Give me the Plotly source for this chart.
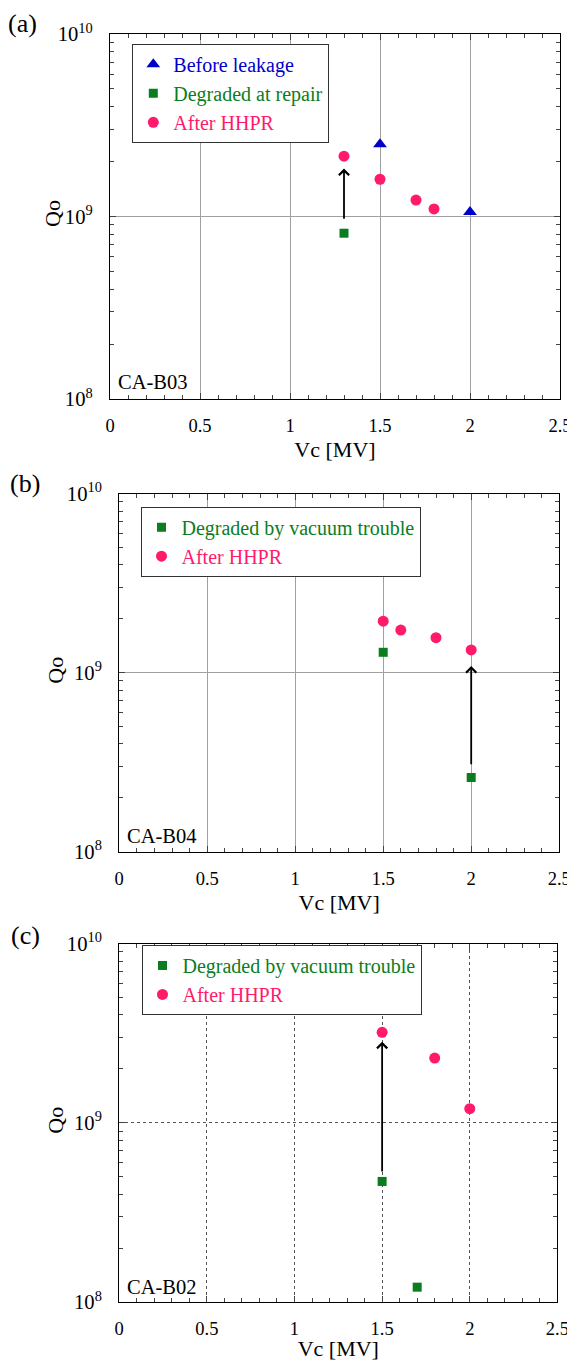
import numpy as np
import plotly.graph_objects as go

# ---------------- data ----------------
# Panel (a) CA-B03
a_before_x = [1.5, 2.0]
a_before_q = [2.49e9, 1.06e9]
a_degr_x = [1.3]
a_degr_q = [0.81e9]
a_after_x = [1.3, 1.5, 1.7, 1.8]
a_after_q = [2.14e9, 1.60e9, 1.23e9, 1.10e9]
a_arrow_x = 1.3
a_arrow_from = 0.955e9
a_arrow_to = 1.83e9

# Panel (b) CA-B04
b_degr_x = [1.5, 2.0]
b_degr_q = [1.30e9, 2.6e8]
b_after_x = [1.5, 1.6, 1.8, 2.0]
b_after_q = [1.94e9, 1.73e9, 1.57e9, 1.34e9]
b_arrow_x = 2.0
b_arrow_from = 3.02e8
b_arrow_to = 1.09e9

# Panel (c) CA-B02
c_degr_x = [1.5, 1.7]
c_degr_q = [4.71e8, 1.21e8]
c_after_x = [1.5, 1.8, 2.0]
c_after_q = [3.2e9, 2.3e9, 1.2e9]
c_arrow_x = 1.5
c_arrow_from = 5.25e8
c_arrow_to = 2.84e9

x_ticks = [0, 0.5, 1, 1.5, 2, 2.5]
x_ticktext = ["0", "0.5", "1", "1.5", "2", "2.5"]

BLUE = "#0000CC"
GREEN = "#0A7D1E"
PINK = "#FF1A6C"
FONT = "Liberation Serif, Times New Roman, serif"

# page body has an 8px margin; figure sized to fit the window
OFF = 8
FW, FH = 575 - OFF, 1361 - OFF

def pxx(px):
    return (px - OFF) / FW

def pxy(py):
    return 1 - (py - OFF) / FH

def col(txt, c):
    return f"<span style='color:{c}'>{txt}</span>"

fig = go.Figure()

# Panel (a)
fig.add_trace(go.Scatter(x=a_before_x, y=a_before_q, mode="markers", name=col("Before leakage", BLUE),
                         marker=dict(symbol="triangle-up", size=12, color=BLUE),
                         xaxis="x", yaxis="y", legend="legend"))
fig.add_trace(go.Scatter(x=a_degr_x, y=a_degr_q, mode="markers", name=col("Degraded at repair", GREEN),
                         marker=dict(symbol="square", size=9, color=GREEN),
                         xaxis="x", yaxis="y", legend="legend"))
fig.add_trace(go.Scatter(x=a_after_x, y=a_after_q, mode="markers", name=col("After HHPR", PINK),
                         marker=dict(symbol="circle", size=11, color=PINK),
                         xaxis="x", yaxis="y", legend="legend"))
# Panel (b)
fig.add_trace(go.Scatter(x=b_degr_x, y=b_degr_q, mode="markers", name=col("Degraded by vacuum trouble", GREEN),
                         marker=dict(symbol="square", size=9, color=GREEN),
                         xaxis="x2", yaxis="y2", legend="legend2"))
fig.add_trace(go.Scatter(x=b_after_x, y=b_after_q, mode="markers", name=col("After HHPR", PINK),
                         marker=dict(symbol="circle", size=11, color=PINK),
                         xaxis="x2", yaxis="y2", legend="legend2"))
# Panel (c)
fig.add_trace(go.Scatter(x=c_degr_x, y=c_degr_q, mode="markers", name=col("Degraded by vacuum trouble", GREEN),
                         marker=dict(symbol="square", size=9, color=GREEN),
                         xaxis="x3", yaxis="y3", legend="legend3"))
fig.add_trace(go.Scatter(x=c_after_x, y=c_after_q, mode="markers", name=col("After HHPR", PINK),
                         marker=dict(symbol="circle", size=11, color=PINK),
                         xaxis="x3", yaxis="y3", legend="legend3"))

panels = [
    dict(l=110, r=560, t=34, b=399, grid="solid", gc="#A0A0A0"),
    dict(l=119.2, r=559.2, t=493.7, b=851.7, grid="solid", gc="#A0A0A0"),
    dict(l=119.2, r=557.4, t=943.7, b=1302, grid="dot", gc="#555555"),
]

layout = dict(width=FW, height=FH, margin=dict(l=0, r=0, t=0, b=0, autoexpand=False),
              paper_bgcolor="white", plot_bgcolor="white", showlegend=True,
              font=dict(family=FONT, color="black", size=18))

for i, p in enumerate(panels):
    sfx = "" if i == 0 else str(i + 1)
    layout["xaxis" + sfx] = dict(
        domain=[pxx(p["l"]), pxx(p["r"])], anchor="y" + sfx, range=[0, 2.5], automargin=False,
        tickvals=x_ticks, ticktext=x_ticktext,
        ticks="inside", ticklen=6, tickcolor="#444",
        minor=dict(dtick=0.1, tick0=0, ticks="inside", ticklen=4, tickcolor="#444", showgrid=False),
        showline=True, linecolor="black", linewidth=1, mirror="allticks",
        showgrid=True, gridcolor=p["gc"], gridwidth=1, griddash=p["grid"],
        zeroline=False, tickfont=dict(size=18.5, family=FONT),
        ticklabelstandoff=10,
        title=dict(text="Vc [MV]", font=dict(size=22, family=FONT), standoff=6))
    layout["yaxis" + sfx] = dict(
        domain=[pxy(p["b"]), pxy(p["t"])], anchor="x" + sfx, type="log", range=[8, 10], automargin=False,
        dtick=1, exponentformat="power",
        ticks="inside", ticklen=6, tickcolor="#444",
        minor=dict(dtick="D1", ticks="inside", ticklen=4, tickcolor="#444", showgrid=False),
        showline=True, linecolor="black", linewidth=1, mirror="allticks",
        showgrid=True, gridcolor=p["gc"], gridwidth=1, griddash=p["grid"],
        zeroline=False, tickfont=dict(size=16.5, family=FONT),
        ticklabelstandoff=13)

# legend: left x, vertical centre, font size
legend_pos = [(132.3, 93.3, 20), (140.5, 541.7, 20), (141.5, 979.9, 20)]
for i, (lx, ly, fs) in enumerate(legend_pos):
    name = "legend" if i == 0 else f"legend{i+1}"
    layout[name] = dict(x=pxx(lx), y=pxy(ly), xanchor="left", yanchor="middle",
                        xref="paper", yref="paper",
                        bgcolor="white", bordercolor="#333", borderwidth=1,
                        font=dict(size=fs, family=FONT), tracegroupgap=0, itemsizing="trace")

fig.update_layout(**layout)

# Arrows
arrows = [(a_arrow_x, a_arrow_from, a_arrow_to, "x", "y"),
          (b_arrow_x, b_arrow_from, b_arrow_to, "x2", "y2"),
          (c_arrow_x, c_arrow_from, c_arrow_to, "x3", "y3")]
for ax_, y0, y1, xr, yr in arrows:
    fig.add_annotation(x=ax_, y=np.log10(y1), ax=ax_, ay=np.log10(y0), xref=xr, yref=yr,
                       axref=xr, ayref=yr, showarrow=True, arrowhead=4, arrowsize=1.1,
                       arrowwidth=1.8, arrowcolor="black", standoff=0, startstandoff=0, text="")

# Cavity labels (left x, centre y in pixels)
cav = [("CA-B03", 116, 381.7), ("CA-B04", 124.7, 836), ("CA-B02", 124.7, 1286.7)]
for t, x, y in cav:
    fig.add_annotation(text=t, xref="paper", yref="paper", x=pxx(x), y=pxy(y),
                       xanchor="left", yanchor="middle", showarrow=False,
                       font=dict(size=20.5, family=FONT, color="black"))

# Y axis titles "Qo"
for qx, qy in [(53, 214), (56, 670.7), (56, 1120.7)]:
    fig.add_annotation(text="Qo", xref="paper", yref="paper", x=pxx(qx), y=pxy(qy),
                       xanchor="center", yanchor="middle", textangle=-90, showarrow=False,
                       font=dict(size=22, family=FONT, color="black"))

# Panel labels
for t, (px, py) in zip(["(a)", "(b)", "(c)"], [(22, 23), (25, 483), (25.7, 935)]):
    fig.add_annotation(text=t, xref="paper", yref="paper", x=pxx(px), y=pxy(py),
                       xanchor="center", yanchor="middle", showarrow=False,
                       font=dict(size=26, family=FONT, color="black"))

fig.write_html("out.html")
